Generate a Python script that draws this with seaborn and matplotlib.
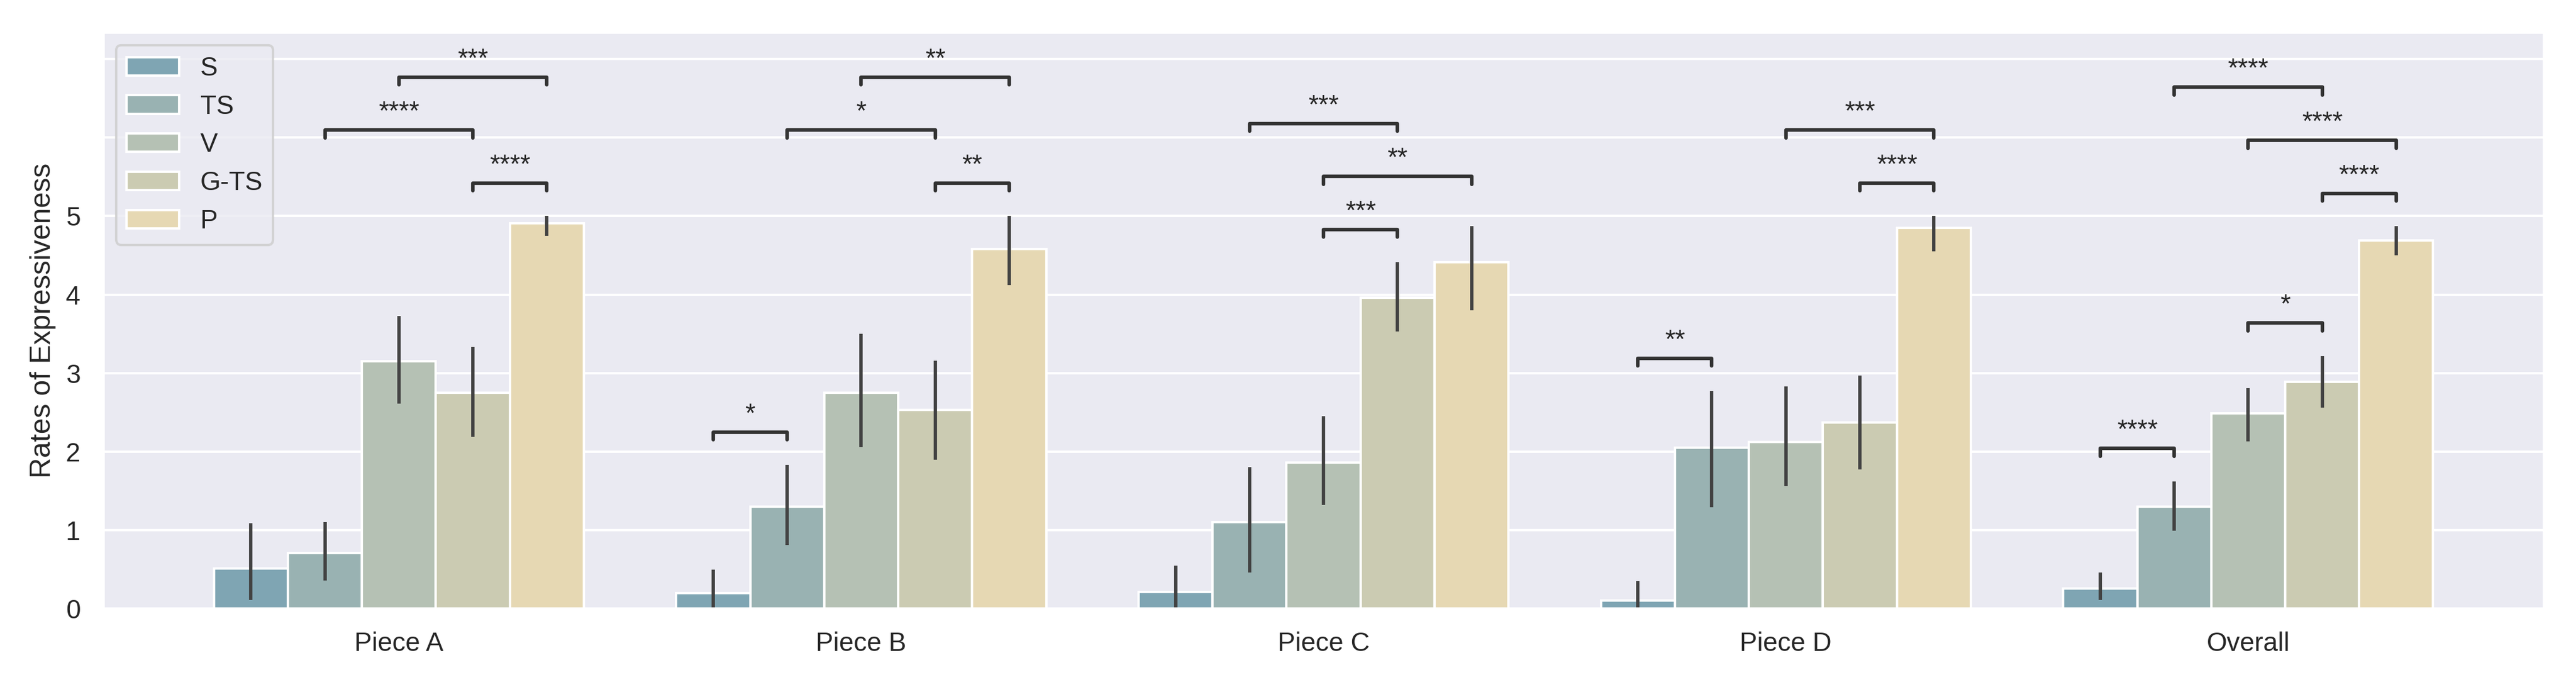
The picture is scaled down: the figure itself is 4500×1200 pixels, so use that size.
import matplotlib
matplotlib.use("Agg")
from matplotlib import pyplot as plt
import seaborn as sns
import pandas as pd

pieces = ["Piece A", "Piece B", "Piece C", "Piece D", "Overall"]
conditions = ["S", "TS", "V", "G-TS", "P"]
colors = ["#7fa5b3", "#99b2b2", "#b5c1b4", "#cbcbb2", "#e6d8b3"]

# mean rating per condition, one value per piece
mean_S = [0.51, 0.20, 0.21, 0.10, 0.26]
mean_TS = [0.71, 1.30, 1.10, 2.05, 1.30]
mean_V = [3.15, 2.75, 1.86, 2.12, 2.49]
mean_GTS = [2.75, 2.53, 3.96, 2.37, 2.89]
mean_P = [4.91, 4.58, 4.41, 4.85, 4.69]

# confidence interval bounds
lo_S = [0.11, 0.00, 0.00, 0.00, 0.11]
hi_S = [1.09, 0.50, 0.55, 0.35, 0.46]
lo_TS = [0.36, 0.81, 0.46, 1.29, 0.99]
hi_TS = [1.10, 1.83, 1.80, 2.77, 1.62]
lo_V = [2.61, 2.06, 1.32, 1.56, 2.13]
hi_V = [3.73, 3.50, 2.45, 2.83, 2.81]
lo_GTS = [2.19, 1.90, 3.53, 1.77, 2.56]
hi_GTS = [3.33, 3.16, 4.41, 2.97, 3.22]
lo_P = [4.75, 4.12, 3.80, 4.55, 4.50]
hi_P = [5.00, 5.00, 4.87, 5.00, 4.87]

# significance brackets: (piece index, condition a, condition b, label)
pairs = [
    (0, "G-TS", "P", "****"), (0, "TS", "G-TS", "****"), (0, "V", "P", "***"),
    (1, "S", "TS", "*"), (1, "G-TS", "P", "**"), (1, "TS", "G-TS", "*"), (1, "V", "P", "**"),
    (2, "V", "G-TS", "***"), (2, "V", "P", "**"), (2, "TS", "G-TS", "***"),
    (3, "S", "TS", "**"), (3, "G-TS", "P", "****"), (3, "V", "P", "***"),
    (4, "S", "TS", "****"), (4, "V", "G-TS", "*"), (4, "G-TS", "P", "****"),
    (4, "V", "P", "****"), (4, "TS", "G-TS", "****"),
]

means = [mean_S, mean_TS, mean_V, mean_GTS, mean_P]
lows = [lo_S, lo_TS, lo_V, lo_GTS, lo_P]
highs = [hi_S, hi_TS, hi_V, hi_GTS, hi_P]

rows = []
for c, vals in zip(conditions, means):
    for p, v in zip(pieces, vals):
        rows.append({"piece": p, "cond": c, "rate": v})
df = pd.DataFrame(rows)

sns.set_theme(style="darkgrid")
plt.rcParams["font.family"] = ["Liberation Sans", "DejaVu Sans"]
fig, ax = plt.subplots(figsize=(15, 4), dpi=300)
fig.subplots_adjust(left=0.040, right=0.9876, top=0.953, bottom=0.114)

sns.barplot(data=df, x="piece", y="rate", hue="cond", order=pieces, hue_order=conditions,
            palette=colors, saturation=1, errorbar=None, edgecolor="white", linewidth=1, ax=ax)

# error bars at the bar centres
centers = {}
for h, cont in enumerate(ax.containers):
    for g, bar in enumerate(cont):
        xc = bar.get_x() + bar.get_width() / 2
        centers[(g, conditions[h])] = xc
        ax.vlines(xc, lows[h][g], highs[h][g], color=".26", linewidth=1.4)

# stack the brackets like statannotations does
stack = {}
for g in range(len(pieces)):
    for h, c in enumerate(conditions):
        stack[(g, c)] = highs[h][g] + 0.42
tick = 0.1
for g, a, b, label in pairs:
    ia, ib = conditions.index(a), conditions.index(b)
    span = conditions[ia:ib + 1]
    y = max(stack[(g, c)] for c in span)
    x1, x2 = centers[(g, a)], centers[(g, b)]
    ax.plot([x1, x1, x2, x2], [y - tick, y, y, y - tick], color=".2", linewidth=1.5)
    ax.text((x1 + x2) / 2, y + 0.06, label, ha="center", va="bottom", fontsize=11, color=".15")
    for c in span:
        stack[(g, c)] = y + 0.675

ax.set_xlim(-0.64, 4.64)
ax.set_ylim(0, 7.34)
ax.set_yticks(range(8))
ax.set_yticklabels(["0", "1", "2", "3", "4", "5", "", ""])
ax.set_xlabel("")
ax.set_ylabel("Rates of Expressiveness")
ax.legend(loc="upper left")

plt.savefig("out.png", dpi=300)
